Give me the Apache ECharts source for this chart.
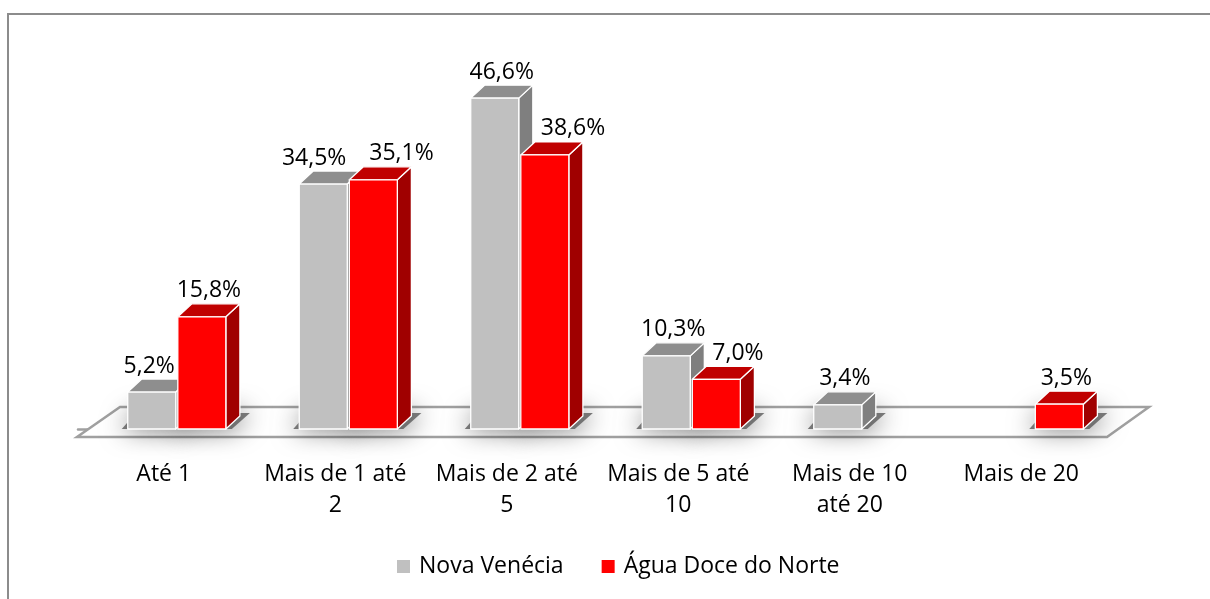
<!DOCTYPE html>
<html>
<head>
<meta charset="utf-8">
<script src="https://cdn.jsdelivr.net/npm/echarts@6/dist/echarts.min.js"></script>
<style>
  html, body { margin: 0; padding: 0; background: #ffffff; }
  #chart { width: 1210px; height: 599px; }
</style>
</head>
<body>
<div id="chart"></div>
<script>
// Household size bands (categories) and share of households per municipality (%)
const categories = ['Até 1', 'Mais de 1 até\n2', 'Mais de 2 até\n5', 'Mais de 5 até\n10', 'Mais de 10\naté 20', 'Mais de 20'];
const seriesNames = ['Nova Venécia', 'Água Doce do Norte'];
const novaVenecia = [5.2, 34.5, 46.6, 10.3, 3.4, null];
const aguaDoce = [15.8, 35.1, 38.6, 7.0, null, 3.5];
const seriesValues = [novaVenecia, aguaDoce];

// Face colours for each prism: front, top, side
const grayFaces = { front: '#c0c0c0', top: '#8e8e8e', side: '#7f7f7f' };
const redFaces = { front: '#ff0000', top: '#c00000', side: '#a00000' };

const FONT = '"Open Sans", "Noto Sans", sans-serif';
const LABEL_FONT = '23px ' + FONT;
const fmt = v => v.toFixed(1).replace('.', ',') + '%';

// Text measuring for label collision handling
const measureCtx = document.createElement('canvas').getContext('2d');
function textWidth(t) { measureCtx.font = LABEL_FONT; return measureCtx.measureText(t).width; }

// Horizontal placement of each series' prism inside a category band (fraction of band)
const slots = [[-0.21, 0.07], [0.082, 0.362]];
const DEPTH_X = 0.082;   // prism depth, fraction of band
const DEPTH_Y = -13;     // prism depth, pixels

function geom(api, slot) {
  const cat = api.value(0);
  const base = api.coord([cat, 0]);
  const band = api.size([1, 0])[0];
  return {
    x0: base[0] + band * slot[0],
    x1: base[0] + band * slot[1],
    yb: base[1],
    dx: band * DEPTH_X,
    dy: DEPTH_Y
  };
}

// Value label x: centred over the prism top, nudged aside when the neighbouring prism is in the way
function labelX(sIdx, cat, api, text) {
  const w = textWidth(text);
  const band = api.size([1, 0])[0];
  const cx = api.coord([cat, 0])[0];
  const dx = band * DEPTH_X;
  const g = [cx + band * slots[0][0], cx + band * slots[0][1]];
  const r = [cx + band * slots[1][0], cx + band * slots[1][1]];
  const own = sIdx === 0 ? g : r;
  let x = (own[0] + own[1]) / 2 + dx / 2;
  const gv = novaVenecia[cat], rv = aguaDoce[cat];
  if (gv != null && rv != null) {
    if (sIdx === 0 && rv >= gv) x = Math.min(x, r[0] - 3 - w / 2);
    if (sIdx === 1 && gv >= 0.9 * rv) x = Math.max(x, g[1] + dx + 8 + w / 2);
  }
  return x;
}

function prism(sIdx, faces) {
  const slot = slots[sIdx];
  return function (params, api) {
    const v = api.value(1);
    if (v == null || isNaN(v)) return null;
    const cat = api.value(0);
    const { x0, x1, yb, dx, dy } = geom(api, slot);
    const yt = api.coord([cat, v])[1];
    const edge = { stroke: '#ffffff', lineWidth: 1.3, lineJoin: 'round' };
    const text = fmt(v);
    return {
      type: 'group',
      children: [
        { type: 'polygon', shape: { points: [[x1, yt], [x1 + dx, yt + dy], [x1 + dx, yb + dy], [x1, yb]] },
          style: Object.assign({ fill: faces.side }, edge) },
        { type: 'polygon', shape: { points: [[x0, yt], [x1, yt], [x1 + dx, yt + dy], [x0 + dx, yt + dy]] },
          style: Object.assign({ fill: faces.top }, edge) },
        { type: 'rect', shape: { x: x0, y: yt, width: x1 - x0, height: yb - yt },
          style: Object.assign({ fill: faces.front }, edge) },
        { type: 'text', style: { text: text, x: labelX(sIdx, cat, api, text), y: yt - 26,
          align: 'center', verticalAlign: 'middle', font: LABEL_FONT, fill: '#000000' } }
      ]
    };
  };
}

// Soft contact shadow of a prism on the floor
function shadow(slot) {
  return function (params, api) {
    const v = api.value(1);
    if (v == null || isNaN(v)) return null;
    const { x0, x1, yb, dx, dy } = geom(api, slot);
    return {
      type: 'polygon',
      shape: { points: [[x0 - 6, yb], [x1 + 6, yb], [x1 + dx + 10, yb + dy - 3], [x0 + dx - 6, yb + dy - 3]] },
      style: { fill: 'rgba(90,90,90,0.8)', shadowBlur: 26, shadowColor: 'rgba(0,0,0,0.8)' }
    };
  };
}

// Floor slab under the categories
function floor(params, api) {
  const band = api.size([1, 0])[0];
  const a = api.coord([0, 0]);
  const b = api.coord([categories.length - 1, 0]);
  const left = a[0] - band / 2, right = b[0] + band / 2;
  const yF = a[1] + 8, yB = a[1] - 22, dx = 42;
  return {
    type: 'polygon',
    shape: { points: [[left - 1, yF], [right, yF], [right + dx, yB], [left + dx, yB]] },
    style: { fill: '#ffffff', stroke: '#a0a0a0', lineWidth: 2.5, lineJoin: 'miter' }
  };
}

const grayData = novaVenecia.map((v, i) => [i, v]);
const redData = aguaDoce.map((v, i) => [i, v]);

const chart = echarts.init(document.getElementById('chart'), null, { renderer: 'canvas' });
chart.setOption({
  animation: false,
  backgroundColor: '#ffffff',
  color: [grayFaces.front, redFaces.front],
  graphic: [{
    type: 'rect', silent: true, z: 100,
    shape: { x: 8, y: 14, width: 1400, height: 800 },
    style: { fill: 'none', stroke: '#8c8c8c', lineWidth: 2 }
  }],
  grid: { left: 78, right: 103, top: 74, bottom: 170 },
  xAxis: {
    type: 'category',
    data: categories,
    offset: 8,
    axisLine: { lineStyle: { color: '#a0a0a0', width: 2.5 } },
    axisTick: { length: 10, lineStyle: { color: '#a0a0a0', width: 2 } },
    axisLabel: { interval: 0, color: '#000000', fontSize: 23, fontFamily: FONT, lineHeight: 31, margin: 22 }
  },
  yAxis: { type: 'value', min: 0, max: 50, show: false },
  legend: {
    data: [{ name: seriesNames[0], icon: 'rect' }, { name: seriesNames[1], icon: 'rect' }],
    left: 392, top: 550,
    itemWidth: 13, itemHeight: 13, itemGap: 38,
    textStyle: { fontSize: 23, fontFamily: FONT, color: '#000000', padding: [0, 0, 0, 4] }
  },
  series: [
    { type: 'custom', name: 'floor', data: [[0, 0]], renderItem: floor, silent: true, z: 1 },
    { type: 'custom', name: 'shadow-gray', data: grayData, renderItem: shadow(slots[0]), silent: true, z: 2 },
    { type: 'custom', name: 'shadow-red', data: redData, renderItem: shadow(slots[1]), silent: true, z: 2 },
    { type: 'custom', name: seriesNames[0], data: grayData, renderItem: prism(0, grayFaces),
      itemStyle: { color: grayFaces.front }, z: 3 },
    { type: 'custom', name: seriesNames[1], data: redData, renderItem: prism(1, redFaces),
      itemStyle: { color: redFaces.front }, z: 3 }
  ]
});
</script>
</body>
</html>
